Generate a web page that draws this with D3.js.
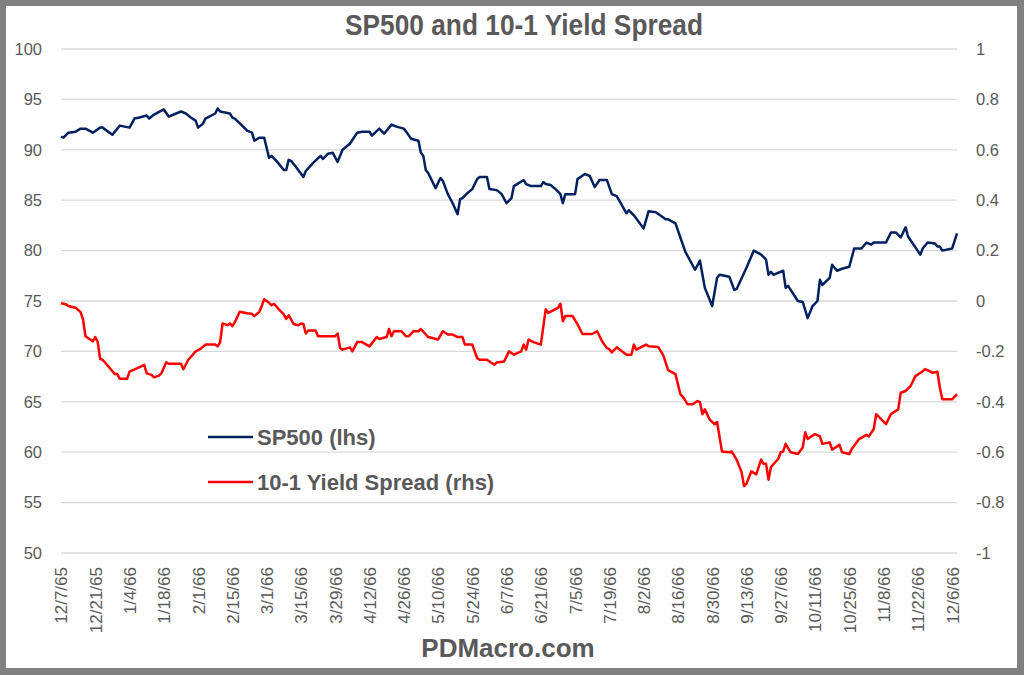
<!DOCTYPE html>
<html>
<head>
<meta charset="utf-8">
<script src="https://cdn.jsdelivr.net/npm/d3@7"></script>
<style>
  body { margin: 0; background: #fff; }
  svg { display: block; }
</style>
</head>
<body>
<svg id="chart" width="1024" height="675"></svg>
<script>
// --- Data ---
const xLabels = ["12/7/65","12/21/65","1/4/66","1/18/66","2/1/66","2/15/66","3/1/66","3/15/66","3/29/66",
  "4/12/66","4/26/66","5/10/66","5/24/66","6/7/66","6/21/66","7/5/66","7/19/66","8/2/66","8/16/66",
  "8/30/66","9/13/66","9/27/66","10/11/66","10/25/66","11/8/66","11/22/66","12/6/66"];
const leftTicks = [50, 55, 60, 65, 70, 75, 80, 85, 90, 95, 100];
const rightTicks = [-1, -0.8, -0.6, -0.4, -0.2, 0, 0.2, 0.4, 0.6, 0.8, 1];

const spDates = ["1965-12-07","1965-12-08","1965-12-10","1965-12-13","1965-12-15","1965-12-17","1965-12-20",
  "1965-12-23","1965-12-24","1965-12-28","1965-12-31","1966-01-04","1966-01-06","1966-01-08","1966-01-11",
  "1966-01-12","1966-01-14","1966-01-18","1966-01-20","1966-01-23","1966-01-25","1966-01-27","1966-01-29",
  "1966-01-31","1966-02-01","1966-02-03","1966-02-04","1966-02-08","1966-02-09","1966-02-10","1966-02-14",
  "1966-02-15","1966-02-16","1966-02-19","1966-02-21","1966-02-23","1966-02-24","1966-02-26","1966-02-28",
  "1966-03-02","1966-03-03","1966-03-05","1966-03-08","1966-03-09","1966-03-10","1966-03-11","1966-03-13",
  "1966-03-16","1966-03-17","1966-03-20","1966-03-23","1966-03-24","1966-03-26","1966-03-28","1966-03-30",
  "1966-04-01","1966-04-04","1966-04-07","1966-04-09","1966-04-12","1966-04-13","1966-04-16","1966-04-18",
  "1966-04-21","1966-04-23","1966-04-26","1966-04-27","1966-04-29","1966-05-02","1966-05-03","1966-05-04",
  "1966-05-05","1966-05-06","1966-05-09","1966-05-11","1966-05-12","1966-05-14","1966-05-16","1966-05-18",
  "1966-05-19","1966-05-20","1966-05-22","1966-05-24","1966-05-26","1966-05-27","1966-05-30","1966-05-31",
  "1966-06-03","1966-06-05","1966-06-07","1966-06-09","1966-06-10","1966-06-14","1966-06-15","1966-06-17",
  "1966-06-21","1966-06-22","1966-06-23","1966-06-25","1966-06-27","1966-06-29","1966-06-30","1966-07-01",
  "1966-07-05","1966-07-06","1966-07-09","1966-07-11","1966-07-13","1966-07-15","1966-07-18","1966-07-20",
  "1966-07-22","1966-07-26","1966-07-27","1966-07-29","1966-08-02","1966-08-04","1966-08-07","1966-08-11",
  "1966-08-12","1966-08-15","1966-08-17","1966-08-19","1966-08-23","1966-08-25","1966-08-27","1966-08-30",
  "1966-09-01","1966-09-02","1966-09-06","1966-09-08","1966-09-09","1966-09-13","1966-09-16","1966-09-19",
  "1966-09-21","1966-09-22","1966-09-23","1966-09-24","1966-09-28","1966-09-29","1966-09-30","1966-10-04",
  "1966-10-06","1966-10-08","1966-10-10","1966-10-12","1966-10-13","1966-10-14","1966-10-17","1966-10-18",
  "1966-10-20","1966-10-22","1966-10-25","1966-10-27","1966-10-30","1966-11-01","1966-11-03","1966-11-04",
  "1966-11-09","1966-11-11","1966-11-13","1966-11-15","1966-11-17","1966-11-18","1966-11-23","1966-11-24",
  "1966-11-26","1966-11-29","1966-11-30","1966-12-01","1966-12-02","1966-12-06","1966-12-08"];
const spValues = [91.3,91.2,91.7,91.8,92.1,92.1,91.7,
  92.2,92.2,91.5,92.4,92.2,93.1,93.2,93.4,
  93.1,93.5,94.0,93.3,93.6,93.8,93.6,93.2,
  92.9,92.2,92.6,93.1,93.6,94.1,93.8,93.6,
  93.2,93.1,92.4,91.9,91.7,90.9,91.2,91.2,
  89.2,89.4,88.9,88.0,88.0,89.0,88.9,88.3,
  87.3,87.9,88.7,89.4,89.1,89.6,89.7,88.8,
  90.0,90.6,91.7,91.8,91.8,91.4,92.1,91.6,
  92.5,92.3,92.1,91.8,91.1,90.9,89.7,89.4,
  88.0,87.7,86.2,87.2,86.9,85.6,84.7,83.6,
  85.1,85.2,85.7,86.1,87.1,87.3,87.3,86.1,
  86.0,85.6,84.7,85.2,86.4,87.0,86.6,86.4,
  86.4,86.8,86.6,86.5,86.1,85.6,84.7,85.6,
  85.6,87.1,87.6,87.4,86.3,87.0,87.0,85.6,
  85.4,83.7,84.0,83.5,82.2,83.9,83.8,83.1,
  83.1,82.7,81.3,79.9,78.1,79.0,76.3,74.5,
  77.3,77.6,77.4,76.1,76.2,78.3,80.0,79.6,
  79.1,77.6,77.9,77.6,78.0,76.3,76.5,75.0,
  74.9,73.3,74.5,75.0,77.1,76.6,77.3,78.6,
  78.0,78.2,78.4,80.2,80.2,80.8,80.6,80.8,
  80.8,81.8,81.8,81.3,82.3,81.4,79.6,80.2,
  80.8,80.7,80.4,80.4,80.0,80.2,81.7];

const spreadDates = ["1965-12-07","1965-12-09","1965-12-10","1965-12-13","1965-12-15","1965-12-16","1965-12-17",
  "1965-12-20","1965-12-21","1965-12-22","1965-12-23","1965-12-24","1965-12-27","1965-12-29","1965-12-30",
  "1965-12-31","1966-01-03","1966-01-04","1966-01-07","1966-01-10","1966-01-11","1966-01-13","1966-01-14",
  "1966-01-16","1966-01-17","1966-01-19","1966-01-20","1966-01-25","1966-01-26","1966-01-28","1966-01-31",
  "1966-02-02","1966-02-04","1966-02-08","1966-02-09","1966-02-10","1966-02-11","1966-02-13","1966-02-14",
  "1966-02-15","1966-02-16","1966-02-18","1966-02-21","1966-02-23","1966-02-24","1966-02-26","1966-02-27",
  "1966-02-28","1966-03-02","1966-03-03","1966-03-04","1966-03-06","1966-03-08","1966-03-09","1966-03-10",
  "1966-03-12","1966-03-14","1966-03-15","1966-03-16","1966-03-17","1966-03-18","1966-03-21","1966-03-22",
  "1966-03-25","1966-03-29","1966-03-30","1966-03-31","1966-04-01","1966-04-04","1966-04-05","1966-04-07",
  "1966-04-09","1966-04-12","1966-04-15","1966-04-16","1966-04-19","1966-04-20","1966-04-21","1966-04-22",
  "1966-04-25","1966-04-27","1966-04-28","1966-04-30","1966-05-02","1966-05-03","1966-05-06","1966-05-10",
  "1966-05-12","1966-05-14","1966-05-16","1966-05-18","1966-05-20","1966-05-21","1966-05-24","1966-05-26",
  "1966-05-27","1966-05-30","1966-06-02","1966-06-03","1966-06-06","1966-06-08","1966-06-10","1966-06-13",
  "1966-06-14","1966-06-15","1966-06-16","1966-06-18","1966-06-21","1966-06-23","1966-06-24","1966-06-28",
  "1966-06-29","1966-06-30","1966-07-01","1966-07-04","1966-07-06","1966-07-08","1966-07-12","1966-07-14",
  "1966-07-16","1966-07-18","1966-07-19","1966-07-20","1966-07-22","1966-07-26","1966-07-28","1966-07-29",
  "1966-07-30","1966-08-03","1966-08-04","1966-08-08","1966-08-10","1966-08-12","1966-08-15","1966-08-17",
  "1966-08-18","1966-08-20","1966-08-22","1966-08-24","1966-08-25","1966-08-26","1966-08-27","1966-08-29",
  "1966-08-31","1966-09-01","1966-09-03","1966-09-06","1966-09-07","1966-09-09","1966-09-11","1966-09-12",
  "1966-09-13","1966-09-15","1966-09-17","1966-09-19","1966-09-20","1966-09-21","1966-09-22","1966-09-23",
  "1966-09-26","1966-09-27","1966-09-28","1966-09-29","1966-10-01","1966-10-04","1966-10-06","1966-10-07",
  "1966-10-08","1966-10-11","1966-10-13","1966-10-14","1966-10-17","1966-10-18","1966-10-21","1966-10-22",
  "1966-10-25","1966-10-26","1966-10-29","1966-11-01","1966-11-02","1966-11-04","1966-11-05","1966-11-09",
  "1966-11-11","1966-11-14","1966-11-15","1966-11-17","1966-11-19","1966-11-21","1966-11-24","1966-11-25",
  "1966-11-27","1966-11-28","1966-11-30","1966-12-01","1966-12-02","1966-12-06","1966-12-08"];
const spreadValues = [-0.009,-0.013,-0.02,-0.027,-0.044,-0.073,-0.14,
  -0.16,-0.143,-0.163,-0.23,-0.233,-0.267,-0.29,-0.29,
  -0.309,-0.309,-0.28,-0.267,-0.253,-0.287,-0.293,-0.303,
  -0.296,-0.287,-0.243,-0.249,-0.249,-0.271,-0.233,-0.2,
  -0.19,-0.173,-0.173,-0.18,-0.163,-0.089,-0.096,-0.089,
  -0.1,-0.084,-0.043,-0.049,-0.051,-0.06,-0.043,-0.02,
  0.007,-0.007,-0.017,-0.011,-0.033,-0.053,-0.071,-0.057,
  -0.091,-0.096,-0.089,-0.091,-0.129,-0.117,-0.117,-0.14,
  -0.14,-0.14,-0.129,-0.187,-0.193,-0.184,-0.2,-0.163,
  -0.163,-0.18,-0.143,-0.151,-0.143,-0.111,-0.14,-0.12,
  -0.12,-0.14,-0.14,-0.12,-0.12,-0.111,-0.143,-0.153,
  -0.12,-0.133,-0.133,-0.143,-0.143,-0.173,-0.173,-0.227,
  -0.233,-0.233,-0.253,-0.244,-0.24,-0.2,-0.213,-0.2,
  -0.173,-0.193,-0.153,-0.163,-0.173,-0.033,-0.047,-0.027,
  -0.011,-0.08,-0.06,-0.06,-0.093,-0.131,-0.131,-0.12,
  -0.16,-0.187,-0.191,-0.204,-0.184,-0.213,-0.213,-0.173,
  -0.193,-0.173,-0.18,-0.183,-0.215,-0.274,-0.29,-0.37,
  -0.38,-0.41,-0.41,-0.397,-0.401,-0.449,-0.43,-0.471,
  -0.489,-0.48,-0.597,-0.6,-0.597,-0.63,-0.679,-0.734,
  -0.725,-0.676,-0.688,-0.629,-0.646,-0.646,-0.709,-0.659,
  -0.626,-0.6,-0.597,-0.567,-0.6,-0.607,-0.581,-0.521,
  -0.547,-0.528,-0.537,-0.567,-0.561,-0.59,-0.571,-0.6,
  -0.607,-0.587,-0.548,-0.531,-0.537,-0.508,-0.449,-0.489,
  -0.449,-0.43,-0.364,-0.357,-0.338,-0.298,-0.279,-0.27,
  -0.279,-0.285,-0.281,-0.344,-0.39,-0.39,-0.37];

// --- Setup ---
const svg = d3.select("#chart");
const W = 1024, H = 675;
const plot = { left: 61, right: 957, top: 49, bottom: 553 };
const textColor = "#595959";
const font = "'Liberation Sans', Arial, sans-serif";

const parseIso = d3.utcParse("%Y-%m-%d");
const parseLabel = s => {
  const [m, d, y] = s.split("/").map(Number);
  return new Date(Date.UTC(1900 + y, m - 1, d));
};

const x = d3.scaleUtc()
  .domain([new Date(Date.UTC(1965, 11, 7)), new Date(Date.UTC(1966, 11, 8))])
  .range([plot.left, plot.right]);
const yL = d3.scaleLinear().domain([50, 100]).range([plot.bottom, plot.top]);
const yR = d3.scaleLinear().domain([-1, 1]).range([plot.bottom, plot.top]);

// --- Frame ---
svg.append("rect").attr("width", W).attr("height", H).attr("fill", "#808080");
svg.append("rect").attr("x", 6).attr("y", 6).attr("width", 1011).attr("height", 662).attr("fill", "#fff");

// --- Gridlines ---
svg.append("g").selectAll("line")
  .data(leftTicks)
  .enter().append("line")
  .attr("x1", plot.left).attr("x2", plot.right)
  .attr("y1", d => yL(d)).attr("y2", d => yL(d))
  .attr("stroke", "#d9d9d9").attr("stroke-width", 1.3);

// --- Axes ---
function styleAxis(g) {
  g.select(".domain").remove();
  g.selectAll("text").attr("fill", textColor).style("font-family", font).style("font-size", "16.5px");
}

svg.append("g")
  .attr("transform", `translate(${plot.left},0)`)
  .call(d3.axisLeft(yL).tickValues(leftTicks).tickSize(0).tickPadding(19))
  .call(styleAxis);

svg.append("g")
  .attr("transform", `translate(${plot.right},0)`)
  .call(d3.axisRight(yR).tickValues(rightTicks).tickSize(0).tickPadding(19).tickFormat(d => String(d)))
  .call(styleAxis);

const xAxis = svg.append("g")
  .attr("transform", `translate(0,${plot.bottom})`)
  .call(d3.axisBottom(x).tickValues(xLabels.map(parseLabel)).tickSize(0)
    .tickFormat((d, i) => xLabels[i]))
  .call(styleAxis);
xAxis.selectAll("text")
  .style("font-size", "17px")
  .attr("transform", "rotate(-90)")
  .attr("text-anchor", "end")
  .attr("x", -14).attr("y", 0).attr("dy", "0.35em");

// --- Lines ---
const spData = spDates.map((d, i) => ({ date: parseIso(d), v: spValues[i] }));
const spreadData = spreadDates.map((d, i) => ({ date: parseIso(d), v: spreadValues[i] }));

svg.append("path")
  .datum(spreadData)
  .attr("fill", "none").attr("stroke", "#ff0000").attr("stroke-width", 2.5)
  .attr("stroke-linejoin", "round")
  .attr("d", d3.line().x(d => x(d.date)).y(d => yR(d.v)));

svg.append("path")
  .datum(spData)
  .attr("fill", "none").attr("stroke", "#002060").attr("stroke-width", 2.5)
  .attr("stroke-linejoin", "round")
  .attr("d", d3.line().x(d => x(d.date)).y(d => yL(d.v)));

// --- Legend ---
const legendItems = [
  { label: "SP500 (lhs)", color: "#002060", y: 437 },
  { label: "10-1 Yield Spread (rhs)", color: "#ff0000", y: 482 }
];
const legend = svg.append("g").selectAll("g").data(legendItems).enter().append("g");
legend.append("line")
  .attr("x1", 208).attr("x2", 253)
  .attr("y1", d => d.y).attr("y2", d => d.y)
  .attr("stroke", d => d.color).attr("stroke-width", 2.5);
legend.append("text")
  .text(d => d.label)
  .attr("x", 257).attr("y", d => d.y).attr("dy", "0.36em")
  .attr("fill", textColor)
  .style("font-family", font).style("font-size", "22px").style("font-weight", "bold");

// --- Title & footer ---
// no narrow font installed, so squeeze the bold title to the reference width
svg.append("text")
  .text("SP500 and 10-1 Yield Spread")
  .attr("x", 524).attr("y", 35)
  .attr("text-anchor", "middle")
  .attr("textLength", 358).attr("lengthAdjust", "spacingAndGlyphs")
  .attr("fill", textColor)
  .style("font-family", font)
  .style("font-size", "29px").style("font-weight", "bold");

svg.append("text")
  .text("PDMacro.com")
  .attr("x", 508).attr("y", 657)
  .attr("text-anchor", "middle")
  .attr("fill", textColor)
  .style("font-family", font).style("font-size", "26px").style("font-weight", "bold");
</script>
</body>
</html>
